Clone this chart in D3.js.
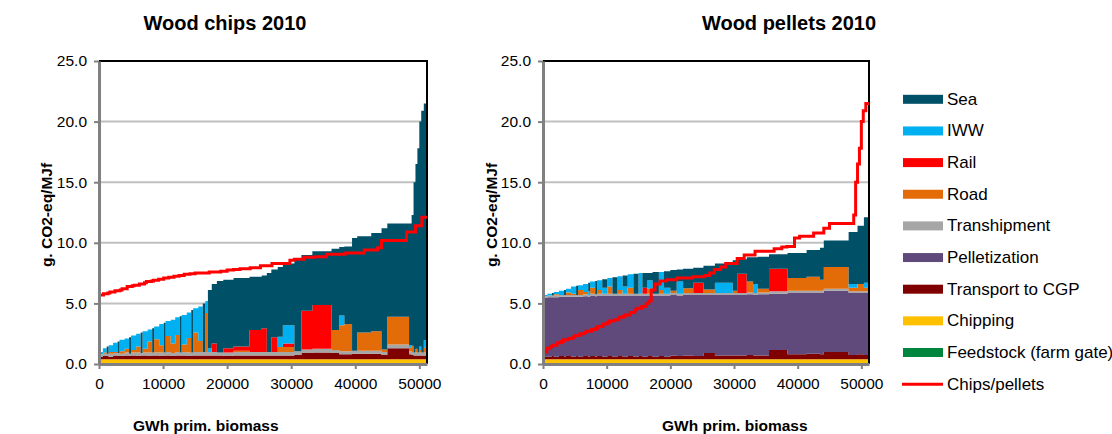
<!DOCTYPE html>
<html><head><meta charset="utf-8">
<script src="https://cdn.jsdelivr.net/npm/d3@7"></script>
<style>body{margin:0;background:#fff}svg{display:block}text{font-family:"Liberation Sans",Arial,sans-serif;fill:#000}</style>
</head><body>
<svg id="c" width="1112" height="434"></svg>
<script>
// ---------- DATA ----------
const seriesKeys = ["feedstock","chipping","cgp","pellet","tranship","road","rail","iww","sea"];
const legendLabels = ["Sea","IWW","Rail","Road","Transhipment","Pelletization","Transport to CGP","Chipping","Feedstock (farm gate)","Chips/pellets"];
const yTicks = [0,5,10,15,20,25];
const xTicks = [0,10000,20000,30000,40000,50000];
const titles = ["Wood chips 2010","Wood pellets 2010"];
const xTitle = "GWh prim. biomass";
const yTitle = "g. CO2-eq/MJf";

// Wood chips: segment boundaries (GWh) and component values (g CO2-eq/MJf)
const chipsBounds = [0,600,1200,1500,2200,2900,3200,4000,4700,5000,5800,6500,6800,7600,8300,8600,9400,10100,10400,11200,11900,12600,12900,13700,14400,14700,15500,16200,16600,17000,
  17600,18400,19400,21000,23500,25400,26200,26900,27900,28700,30500,31600,33300,36300,37500,38300,39500,40300,42500,44100,45000,48400,48800,49100,49400,49700,50000,50300,50700,51200];
const chipsFeedstock = 0;
const chipsChipping = 0.4;
const chipsCGP = [.2,.25,.25,.2,.3,.25,.25,.3,.25,.3,.25,.3,.3,.25,.3,.3,.25,.3,.3,.25,.3,.3,.3,.25,.3,.3,.3,.3,.3,.3,
  .3,.3,.25,.3,.3,.3,.3,.3,.3,.3,.35,.5,.55,.5,.4,.4,.45,.45,.45,.35,.9,.4,.35,.3,.3,.3,.3,.3,.3];
const chipsTranship = [.2,.2,.2,.25,.2,.25,.2,.25,.2,.25,.3,.2,.25,.3,.25,.25,.3,.25,.3,.25,.3,.25,.3,.3,.25,.3,.3,.3,.3,.3,
  .3,.25,.3,.3,.3,.3,.3,.3,.3,.3,.3,.3,.3,.25,.25,.25,.25,.25,.25,.25,.3,.25,.25,.25,.25,.25,.25,.25,.25];
const chipsRoad = [0,.1,0,.15,.1,0,.2,.3,0,.2,.5,0,.3,.9,0,1.1,.6,0,1.3,.8,1.4,0,.6,1.2,0,1.6,.9,0,3.2,0,
  0,0,0,.1,0,0,0,0,.4,.4,0,0,0,1.65,2.15,2.25,0,1.5,1.6,.2,2.3,.3,.5,0,.3,0,.2,0,.4];
const chipsRail = [0,0,0,0,0,0,0,0,0,0,0,0,0,0,0,0,0,0,0,0,0,0,0,0,0,0,0,0,0,0,
  .7,0,.35,.35,1.8,1.95,0,1.2,0,.3,0,3.2,3.62,0,0,0,0,0,0,0,0,0,0,0,0,0,0,0,0];
const chipsIWW = [.2,.35,0,.55,.75,0,.95,.85,0,1.2,1.05,0,1.45,1.0,0,1.05,1.75,0,1.25,1.95,1.45,0,2.45,2.1,0,2.0,2.85,0,1.0,.3,
  0,0,0,0,0,0,0,0,.85,1.5,0,0,0,0,.8,0,0,0,0,0,0,.2,0,0,0,0,.3,0,.6];
const chipsSea = [0,0,.6,0,0,.95,0,0,1.35,0,0,1.7,0,0,2.0,0,0,2.45,0,0,0,3.0,0,0,3.5,0,0,4.0,0,4.8,
  4.9,5.9,5.65,5.65,4.4,4.35,6.5,5.6,5.75,5.1,7.65,4.6,4.43,6.7,5.65,6.4,9.3,7.95,8.1,10.0,7.7,10.05,10.8,14.05,15.25,16.85,18.55,19.95,19.55];

// Wood pellets
const pelletsBounds = [0,700,1400,1700,2500,3300,3600,4400,5200,5500,6300,7100,7400,8200,8500,9300,10100,10900,11700,12500,13300,14200,15000,15600,16400,17200,18200,19000,20000,21000,22000,23600,25200,27000,29800,30500,32000,33000,33700,35500,38400,41400,43500,44100,48000,49400,50400,51200];
const pelletsFeedstock = 0;
const pelletsChipping = 0.4;
const pelletsCGP = [.2,.2,.25,.2,.25,.2,.25,.2,.25,.2,.25,.2,.25,.2,.25,.2,.25,.2,.25,.2,.25,.2,.25,.2,.25,.2,.25,.2,.3,.25,.3,.25,.5,.3,.3,.3,.35,.3,.3,.75,.4,.45,.4,.6,.35,.4,.35];
const pelletsPellet = [4.85,4.9,4.85,4.9,4.9,4.95,4.9,4.95,4.9,4.95,4.95,4.95,5.0,5.0,5.0,5.05,5.0,5.05,5.0,5.05,5.0,5.05,5.0,5.05,5.0,5.05,5.0,5.05,5.0,5.0,5.0,5.05,4.8,5.0,5.0,5.0,5.0,5.0,5.05,4.65,5.1,5.05,5.1,5.05,5.1,5.05,5.1];
const pelletsTranship = [.15,.15,.15,.15,.15,.15,.15,.15,.15,.15,.15,.15,.15,.15,.15,.15,.15,.15,.15,.15,.15,.15,.15,.15,.15,.15,.15,.15,.15,.15,.15,.15,.15,.15,.15,.15,.15,.15,.15,.2,.15,.15,.15,.15,.15,.15,.15];
const pelletsRoad = [0,0,0,.1,0,0,.2,.1,0,.4,.2,0,.5,0,.3,0,.6,0,.3,0,.5,0,0,0,.4,0,.3,0,.2,0,.4,0,.3,0,.2,0,.9,0,.3,0,1.05,1.15,.9,1.8,.3,.6,.3];
const pelletsRail = [0,0,0,0,0,0,0,0,0,0,0,0,0,0,0,0,0,0,0,0,0,0,0,.5,0,0,0,0,0,0,0,.85,0,0,0,1.6,0,0,0,1.85,0,0,0,0,0,0,0];
const pelletsIWW = [.1,.15,0,.2,.35,0,.3,.6,0,.4,.65,.3,.5,0,.8,.5,.7,0,1.15,.6,1.1,0,1.7,0,.7,0,1.5,.5,0,1.0,0,0,0,.85,0,0,0,.75,0,0,0,0,0,0,.3,0,.4];
const pelletsSea = [0,0,.2,0,0,.4,0,0,.75,0,0,.7,0,1.1,0,.7,0,1.35,0,.9,0,1.65,0,1.2,.6,1.8,0,1.35,1.7,1.0,1.6,1.25,1.95,1.6,2.5,1.2,2.0,2.2,2.65,1.2,2.05,2.2,2.65,2.2,4.3,4.8,5.4];

const colors = {feedstock:"#00853e",chipping:"#ffc000",cgp:"#7f0000",pellet:"#604a7b",tranship:"#a6a6a6",road:"#e36c09",rail:"#ff0000",iww:"#00b0f0",sea:"#005068",line:"#ff0000"};
const legendKeys = ["sea","iww","rail","road","tranship","pellet","cgp","chipping","feedstock","line"];

// ---------- BUILD ----------
function rows(b, fs, ch, cgp, pel, tr, road, rail, iww, sea){
  const n = b.length - 1, out = [];
  for (let i = 0; i <= n; i++) {
    const j = Math.min(i, n - 1);
    out.push({x:b[i], feedstock:fs, chipping:ch, cgp:cgp[j], pellet:pel?pel[j]:0, tranship:tr[j], road:road[j], rail:rail[j], iww:iww[j], sea:sea[j]});
  }
  return out;
}
const chipsRows = rows(chipsBounds, chipsFeedstock, chipsChipping, chipsCGP, null, chipsTranship, chipsRoad, chipsRail, chipsIWW, chipsSea);
const pelletsRows = rows(pelletsBounds, pelletsFeedstock, pelletsChipping, pelletsCGP, pelletsPellet, pelletsTranship, pelletsRoad, pelletsRail, pelletsIWW, pelletsSea);
const total = r => seriesKeys.reduce((s,k)=>s+r[k],0);

const svg = d3.select("#c");
const yTop = 61, yBot = 364;
const panels = [
  {rows: chipsRows, lineRows: pelletsRows, left: 99, right: 427, title: titles[0], tx: 225, xtx: 133, ytx: 46},
  {rows: pelletsRows, lineRows: chipsRows, left: 543, right: 869, title: titles[1], tx: 789, xtx: 662, ytx: 491}
];

const y = d3.scaleLinear().domain([0,25]).range([yBot,yTop]);

panels.forEach(p => {
  const x = d3.scaleLinear().domain([0,51200]).range([p.left,p.right]);
  const g = svg.append("g");
  // gridlines
  g.selectAll("line.grid").data(yTicks.filter(d=>d>0 && d<25)).join("line")
    .attr("x1",p.left).attr("x2",p.right).attr("y1",d=>y(d)).attr("y2",d=>y(d))
    .attr("stroke","#c0c0c0").attr("stroke-width",2);
  // stacked step areas
  const stack = d3.stack().keys(seriesKeys)(p.rows);
  const area = d3.area().curve(d3.curveStepAfter)
    .x(d=>x(d.data.x)).y0(d=>y(d[0])).y1(d=>y(d[1]));
  g.selectAll("path.s").data(stack).join("path")
    .attr("d",area).attr("fill",d=>colors[d.key]).attr("stroke","none");
  // frame top & right
  g.append("line").attr("x1",p.left).attr("x2",p.right+1).attr("y1",yTop).attr("y2",yTop).attr("stroke","#000").attr("stroke-width",2);
  g.append("line").attr("x1",p.right).attr("x2",p.right).attr("y1",yTop).attr("y2",yBot).attr("stroke","#000").attr("stroke-width",2);
  // red line: totals of the other product
  const line = d3.line().curve(d3.curveStepAfter).x(d=>x(d.x)).y(d=>y(total(d)));
  g.append("path").attr("d",line(p.lineRows)).attr("fill","none").attr("stroke",colors.line).attr("stroke-width",3);
  // axes
  const ya = g.append("g").attr("transform",`translate(${p.left},0)`)
    .call(d3.axisLeft(y).tickValues(yTicks).tickFormat(d3.format(".1f")).tickSize(5).tickSizeOuter(0).tickPadding(7));
  const xa = g.append("g").attr("transform",`translate(0,${yBot})`)
    .call(d3.axisBottom(x).tickValues(xTicks).tickFormat(d=>String(d)).tickSize(5).tickSizeOuter(0).tickPadding(9));
  [ya,xa].forEach(a=>{
    a.select(".domain").attr("stroke","#808080").attr("stroke-width",3);
    a.selectAll(".tick line").attr("stroke","#808080").attr("stroke-width",2);
    a.selectAll(".tick text").attr("font-size","15.5px").attr("font-family","Liberation Sans, Arial, sans-serif").attr("fill","#000");
  });
  // titles
  svg.append("text").attr("x",p.tx).attr("y",30).attr("text-anchor","middle")
    .attr("font-size","20px").attr("font-weight","bold").text(p.title);
  svg.append("text").attr("x",p.xtx).attr("y",431).attr("font-size","15.5px").attr("font-weight","bold").text(xTitle);
  svg.append("text").attr("transform",`translate(${p.ytx},215) rotate(-90)`).attr("text-anchor","middle")
    .attr("dominant-baseline","central").attr("font-size","15.5px").attr("font-weight","bold").text(yTitle);
});

// legend
const lg = svg.append("g");
legendKeys.forEach((k,i)=>{
  const cy = 99.3 + i*31.65;
  if (k === "line") {
    lg.append("line").attr("x1",902).attr("x2",943).attr("y1",cy).attr("y2",cy).attr("stroke",colors.line).attr("stroke-width",3);
  } else {
    lg.append("rect").attr("x",903).attr("y",cy-4.5).attr("width",40).attr("height",9).attr("fill",colors[k]);
  }
  lg.append("text").attr("x",947).attr("y",cy).attr("dominant-baseline","central").attr("font-size","17px").text(legendLabels[i]);
});
</script>
</body></html>
